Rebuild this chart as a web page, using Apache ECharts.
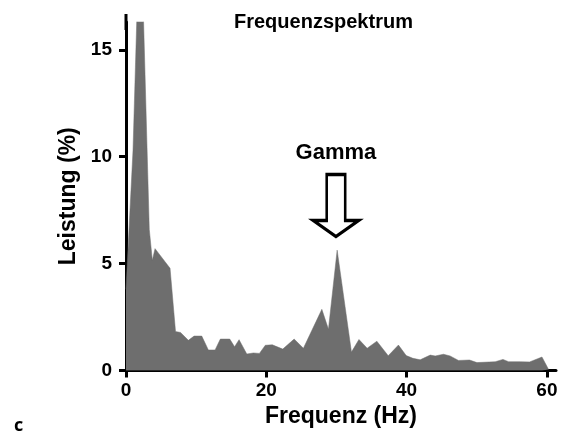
<!DOCTYPE html>
<html>
<head>
<meta charset="utf-8">
<script src="https://cdn.jsdelivr.net/npm/echarts@6/dist/echarts.min.js"></script>
<style>
html,body{margin:0;padding:0;background:#fff;}
#chart{width:562px;height:435px;}
</style>
</head>
<body>
<div id="chart"></div>
<script>
// Frequency (Hz) of each spectrum sample
var frequencies = [0, 1, 2.03, 3.32, 3.75, 4.14, 6.28, 7.06, 7.77, 8.89, 9.70, 10.80, 11.74, 12.70, 13.45, 14.79, 15.48, 16.12, 17.22, 18.16, 19.02, 19.86, 20.86, 22.35, 23.97, 25.29, 27.92, 28.86, 30.10, 32.14, 33.21, 34.38, 35.76, 37.38, 38.84, 39.94, 40.9, 41.94, 43.37, 44.08, 45.26, 46.2, 47.40, 48.97, 50.03, 52.64, 53.74, 54.54, 56.21, 57.53, 59.30, 60.24];
// Power (%) at each frequency
var power = [3.8, 10.3, 22, 6.6, 5.16, 5.7, 4.78, 1.82, 1.78, 1.41, 1.61, 1.61, 0.96, 0.96, 1.47, 1.47, 1.11, 1.44, 0.77, 0.82, 0.80, 1.18, 1.20, 1.00, 1.47, 1.04, 2.86, 1.93, 5.63, 0.86, 1.45, 1.04, 1.37, 0.69, 1.19, 0.70, 0.57, 0.50, 0.72, 0.68, 0.76, 0.68, 0.47, 0.49, 0.37, 0.41, 0.52, 0.41, 0.41, 0.40, 0.63, 0.05];
var xTicks = [0, 20, 40, 60];
var yTicks = [0, 5, 10, 15];
var gammaLabel = 'Gamma';
var gammaPos = [29.93, 7.72];

var chart = echarts.init(document.getElementById('chart'), null, {renderer: 'canvas'});
var seriesData = frequencies.map(function (f, i) { return [f, power[i]]; });
var FONT = 'Liberation Sans, Arial, sans-serif';

chart.setOption({
  animation: false,
  backgroundColor: '#ffffff',
  title: [
    {
      text: 'Frequenzspektrum',
      left: 229, top: 7,
      textStyle: {fontFamily: FONT, fontWeight: 'bold', fontSize: 20, color: '#000'}
    },
    {
      text: 'c',
      left: 9, top: 412,
      textStyle: {fontFamily: 'Open Sans, DejaVu Sans, sans-serif', fontWeight: 'bold', fontSize: 18, color: '#000'}
    }
  ],
  grid: {left: 126, right: 6, top: 22, bottom: 64.5, containLabel: false},
  xAxis: {
    type: 'value',
    min: 0, max: 61.3,
    name: 'Frequenz (Hz)',
    nameLocation: 'middle',
    nameGap: 30,
    nameTextStyle: {fontFamily: FONT, fontWeight: 'bold', fontSize: 23, color: '#000'},
    splitLine: {show: false},
    axisLine: {onZero: false, lineStyle: {color: '#000', width: 3}},
    axisTick: {show: true, length: 7, lineStyle: {color: '#000', width: 3}, customValues: xTicks},
    axisLabel: {fontFamily: FONT, fontWeight: 'bold', fontSize: 19, color: '#000', margin: 11, customValues: xTicks}
  },
  yAxis: {
    type: 'value',
    min: 0, max: 16.3,
    name: 'Leistung (%)',
    nameLocation: 'middle',
    nameGap: 46,
    nameTextStyle: {fontFamily: FONT, fontWeight: 'bold', fontSize: 23, color: '#000'},
    splitLine: {show: false},
    axisLine: {show: true, onZero: false, lineStyle: {color: '#000', width: 3}, symbol: ['none', 'rect'], symbolSize: [3, 16]},
    axisTick: {show: true, length: 7, lineStyle: {color: '#000', width: 3}, customValues: yTicks},
    axisLabel: {fontFamily: FONT, fontWeight: 'bold', fontSize: 19, color: '#000', margin: 14, customValues: yTicks}
  },
  series: [{
    type: 'line',
    data: seriesData,
    symbol: 'none',
    clip: true,
    lineStyle: {width: 0.5, color: '#6e6e6e'},
    areaStyle: {color: '#6e6e6e', opacity: 1},
    z: 1,
    markPoint: {
      silent: true,
      data: [{
        coord: gammaPos,
        symbol: 'path://M13.4 0 L31.9 0 L31.9 46 L45.3 46 L22.65 62 L0 46 L13.4 46 Z',
        symbolSize: [45.3, 62],
        symbolKeepAspect: false,
        itemStyle: {color: '#ffffff', borderColor: '#000000', borderWidth: 3},
        label: {
          show: true,
          position: 'top',
          distance: 9,
          formatter: gammaLabel,
          fontFamily: FONT, fontWeight: 'bold', fontSize: 22, color: '#000'
        }
      }]
    }
  }]
});
</script>
</body>
</html>
